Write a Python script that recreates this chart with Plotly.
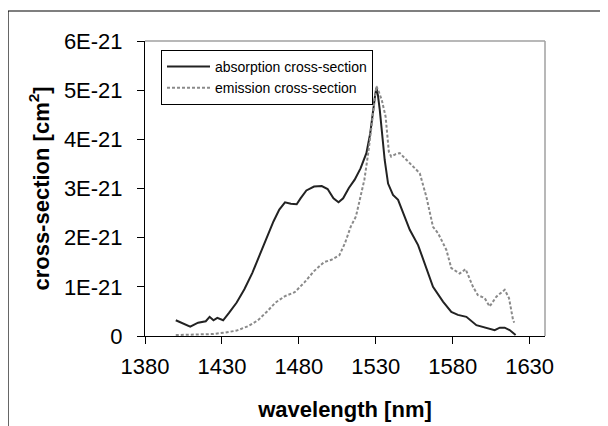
import plotly.graph_objects as go

# absorption cross-section (wavelength nm, value in 1E-21 cm^2)
abs_wl = [1400, 1404.4, 1409.4, 1414.5, 1419.5, 1422, 1424.5, 1427, 1430.8, 1434.6,
          1439.6, 1444.6, 1449.7, 1454.7, 1459.7, 1463.5, 1467.3, 1471, 1474.8, 1478.6,
          1481.1, 1484.9, 1489.9, 1494.9, 1498.7, 1502.5, 1505.8, 1508.8, 1512.5, 1516.3,
          1520.1, 1523.9, 1526.4, 1528.4, 1529.6, 1530.4, 1531.4, 1532.6, 1534.2, 1535.8,
          1538, 1541.2, 1544.5, 1547.7, 1552.1, 1557.5, 1561.8, 1567.2, 1573.7, 1579.1,
          1583.4, 1588.9, 1595.4, 1601.9, 1607.3, 1610.6, 1613.8, 1617, 1620.9]
abs_val = [0.32, 0.26, 0.19, 0.27, 0.30, 0.39, 0.32, 0.37, 0.32, 0.47,
           0.68, 0.95, 1.28, 1.66, 2.03, 2.33, 2.57, 2.72, 2.69, 2.68,
           2.80, 2.96, 3.04, 3.05, 2.99, 2.80, 2.72, 2.80, 3.01, 3.18,
           3.41, 3.72, 4.12, 4.66, 4.90, 5.05, 4.90, 4.60, 4.00, 3.58,
           3.10, 2.87, 2.77, 2.50, 2.16, 1.85, 1.48, 1.00, 0.70, 0.49,
           0.43, 0.39, 0.22, 0.16, 0.12, 0.17, 0.17, 0.12, 0.02]

# emission cross-section (wavelength nm, value in 1E-21 cm^2)
em_wl = [1400, 1412, 1424.5, 1432, 1439.6, 1447, 1453.4, 1459.7, 1464.8, 1471,
         1477.3, 1483.6, 1489.9, 1496.2, 1501.2, 1506.3, 1510, 1513.8, 1517.1, 1519.6,
         1522.6, 1525.1, 1527.1, 1528.9, 1530.4, 1531.6, 1533.9, 1536.4, 1538.5, 1540,
         1543, 1545.6, 1552, 1558.6, 1562.9, 1567.2, 1570.5, 1575.9, 1579.1, 1584.5,
         1588.4, 1593.2, 1596.4, 1600.8, 1604, 1608.4, 1613.8, 1616.6, 1619.2, 1620]
em_val = [0.02, 0.03, 0.04, 0.07, 0.11, 0.20, 0.32, 0.51, 0.68, 0.81,
          0.89, 1.09, 1.32, 1.50, 1.55, 1.64, 1.89, 2.23, 2.43, 2.77,
          3.18, 3.72, 4.26, 4.80, 5.08, 5.00, 4.80, 4.46, 3.75, 3.65,
          3.70, 3.72, 3.51, 3.31, 2.83, 2.22, 2.09, 1.75, 1.38, 1.27,
          1.36, 1.00, 0.83, 0.77, 0.60, 0.80, 0.94, 0.77, 0.33, 0.27]

y_tick_vals = [0, 1, 2, 3, 4, 5, 6]
y_tick_text = ["0", "1E-21", "2E-21", "3E-21", "4E-21", "5E-21", "6E-21"]
x_tick_vals = [1380, 1430, 1480, 1530, 1580, 1630]

SCALE = 1e-21
FONT = "Arial, 'Liberation Sans', sans-serif"

fig = go.Figure()
fig.add_trace(go.Scatter(
    x=abs_wl, y=[v * SCALE for v in abs_val], mode="lines",
    name="absorption cross-section",
    line=dict(color="#222222", width=2)))
fig.add_trace(go.Scatter(
    x=em_wl, y=[v * SCALE for v in em_val], mode="lines",
    name="emission cross-section",
    line=dict(color="#8a8a8a", width=2, dash="3px,2px")))

# page body adds an 8px offset, so the figure is 600x418 placed at (8,8)
fig.update_layout(
    width=600, height=418,
    margin=dict(l=137, r=63, t=33, b=90, autoexpand=False),
    paper_bgcolor="white", plot_bgcolor="white",
    font=dict(family=FONT, size=22, color="black"),
    showlegend=True,
    legend=dict(x=0.04, y=0.97, xanchor="left", yanchor="top",
                bgcolor="white", bordercolor="black", borderwidth=1,
                font=dict(family=FONT, size=14, color="black"),
                tracegroupgap=0, itemwidth=43),
    xaxis=dict(range=[1380, 1640], tickvals=x_tick_vals, automargin=False,
               showgrid=False, zeroline=False,
               showline=True, linecolor="black", linewidth=1,
               ticks="outside", ticklen=7, tickcolor="black",
               ticklabelstandoff=4,
               tickfont=dict(family=FONT, size=22, color="black"),
               title=dict(text="<b>wavelength [nm]</b>", standoff=23,
                          font=dict(family=FONT, size=22, color="black"))),
    yaxis=dict(range=[0, 6 * SCALE], tickvals=[v * SCALE for v in y_tick_vals],
               ticktext=y_tick_text, automargin=False,
               showgrid=False, zeroline=False,
               showline=True, linecolor="black", linewidth=1,
               ticks="outside", ticklen=7, tickcolor="black",
               ticklabelstandoff=10,
               tickfont=dict(family=FONT, size=22, color="black"),
               title=dict(text="<b>cross-section [cm<sup>2</sup>]</b>", standoff=8,
                          font=dict(family=FONT, size=22, color="black"))),
    shapes=[
        # gray top and right plot-area border
        dict(type="line", xref="paper", yref="paper", x0=0, x1=1, y0=1, y1=1,
             line=dict(color="#a0a0a0", width=1.5)),
        dict(type="line", xref="paper", yref="paper", x0=1, x1=1, y0=0, y1=1,
             line=dict(color="#a0a0a0", width=1.5)),
        # outer chart frame
        dict(type="rect", xref="paper", yref="paper",
             x0=-0.3425, x1=1.155, y0=-0.35, y1=1.1017,
             line=dict(color="black", width=1.2), layer="below"),
    ],
)

fig.write_html("out.html")
